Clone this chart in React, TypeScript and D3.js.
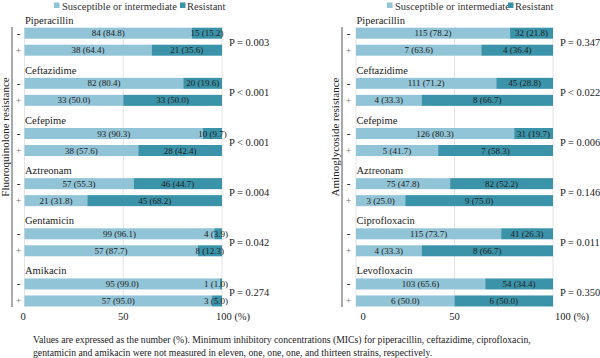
import React from "react";
import * as d3 from "d3";

const resistanceLabels = ["Fluoroquinolone resistance", "Aminoglycoside resistance"];
const seriesNames = ["Susceptible or intermediate", "Resistant"];
const drugsLeft = ["Piperacillin", "Ceftazidime", "Cefepime", "Aztreonam", "Gentamicin", "Amikacin"];
const drugsRight = ["Piperacillin", "Ceftazidime", "Cefepime", "Aztreonam", "Ciprofloxacin", "Levofloxacin"];
// [susceptible n, susceptible %, resistant n, resistant %] for "-" and "+"
const leftMinus = [[84, 84.8, 15, 15.2], [82, 80.4, 20, 19.6], [93, 90.3, 10, 9.7], [57, 55.3, 46, 44.7], [99, 96.1, 4, 3.9], [95, 99.0, 1, 1.0]];
const leftPlus = [[38, 64.4, 21, 35.6], [33, 50.0, 33, 50.0], [38, 57.6, 28, 42.4], [21, 31.8, 45, 68.2], [57, 87.7, 8, 12.3], [57, 95.0, 3, 5.0]];
const rightMinus = [[115, 78.2, 32, 21.8], [111, 71.2, 45, 28.8], [126, 80.3, 31, 19.7], [75, 47.8, 82, 52.2], [115, 73.7, 41, 26.3], [103, 65.6, 54, 34.4]];
const rightPlus = [[7, 63.6, 4, 36.4], [4, 33.3, 8, 66.7], [5, 41.7, 7, 58.3], [3, 25.0, 9, 75.0], [4, 33.3, 8, 66.7], [6, 50.0, 6, 50.0]];
const pLeft = ["P = 0.003", "P < 0.001", "P < 0.001", "P = 0.004", "P = 0.042", "P = 0.274"];
const pRight = ["P = 0.347", "P < 0.022", "P = 0.006", "P = 0.146", "P = 0.011", "P = 0.350"];
const ticks = [0, 50, 100];
const footnote1 = "Values are expressed as the number (%). Minimum inhibitory concentrations (MICs) for piperacillin, ceftazidime, ciprofloxacin,";
const footnote2 = "gentamicin and amikacin were not measured in eleven, one, one, one, and thirteen strains, respectively.";

const LIGHT = "#91c4d6";
const DARK = "#3a93a9";

const cw: Record<string, number> = { " ": 0.25, "(": 0.333, ")": 0.333, ".": 0.25 };
function textW(s: string, size: number) {
  let w = 0;
  for (const c of s) w += (cw[c] ?? 0.5) * size;
  return w;
}

function fmt(n: number, p: number) {
  return `${n} (${p.toFixed(1)})`;
}

type PanelProps = {
  x0: number; x1: number; axisX: number; titleX: number;
  drugs: string[]; minus: number[][]; plus: number[][]; pvals: string[];
  title: string; legendX: number[]; tickOffsets: number[]; tickAnchors: string[];
};

function Panel(p: PanelProps) {
  const x = d3.scaleLinear().domain([0, 100]).range([p.x0, p.x1]);
  const band = d3.scaleBand<number>().domain(d3.range(6)).range([10, 10 + 6 * 50.15]).paddingInner(0);
  const barH = 11;
  const rows = [
    { key: "-", data: p.minus, dy: 17.7 },
    { key: "+", data: p.plus, dy: 34.7 },
  ];
  const labelFs = 9;
  return (
    <g>
      <rect x={p.legendX[0]} y={2.5} width={5.5} height={5.5} fill={LIGHT} />
      <text x={p.legendX[0] + 8} y={9.5} fontSize={10.5} fill="#333">{seriesNames[0]}</text>
      <rect x={p.legendX[1]} y={2.5} width={5.5} height={5.5} fill={DARK} />
      <text x={p.legendX[1] + 7} y={9.5} fontSize={10.5} fill="#333">{seriesNames[1]}</text>
      {ticks.map((t) => (
        <line key={t} x1={x(t)} x2={x(t)} y1={27} y2={307} stroke="#e4e4e4" strokeWidth={1} />
      ))}
      <line x1={p.axisX} x2={p.axisX} y1={27} y2={307} stroke="#555" strokeWidth={1} />
      <text transform={`translate(${p.titleX},137) rotate(-90)`} textAnchor="middle" fontSize={11} fill="#222">{p.title}</text>
      {p.drugs.map((d, i) => {
        const b = band(i)!;
        return (
          <g key={d}>
            <text x={p.x0 + 0.5} y={b + 13.5} fontSize={10.5} fill="#222">{d}</text>
            {rows.map((r) => {
              const v = r.data[i];
              const y = b + r.dy;
              const sW = x(v[1]) - x(0);
              const rStart = x(v[1]);
              const rEnd = x(100);
              const sLab = fmt(v[0], v[1]);
              const rLab = fmt(v[2], v[3]);
              const rw = textW(rLab, labelFs);
              const rc = Math.min((rStart + rEnd) / 2, rEnd + 6 - rw / 2);
              return (
                <g key={r.key}>
                  <rect x={x(0)} y={y} width={sW} height={barH} fill={LIGHT} />
                  <rect x={rStart} y={y} width={rEnd - rStart} height={barH} fill={DARK} />
                  <text x={(x(0) + rStart) / 2} y={y + 8.5} fontSize={labelFs} textAnchor="middle" fill="#222">{sLab}</text>
                  <text x={rc} y={y + 8.5} fontSize={labelFs} textAnchor="middle" fill="#222">{rLab}</text>
                  <text x={p.axisX + 6.5} y={y + 9} fontSize={r.key === "-" ? 11 : 10} textAnchor="middle" fill={r.key === "-" ? "#222" : "#777"} fontWeight={r.key === "-" ? "bold" : "normal"}>{r.key}</text>
                </g>
              );
            })}
            <text x={x(100) + 7} y={b + 31.7 + 3.8} fontSize={10.5} fill="#222">{p.pvals[i]}</text>
          </g>
        );
      })}
      {ticks.map((t, k) => (
        <text key={t} x={x(t) + p.tickOffsets[k]} y={320} fontSize={10.5} textAnchor={p.tickAnchors[k] as any} fill="#222">
          {t === 100 ? "100 (%)" : String(t)}
        </text>
      ))}
    </g>
  );
}

export default function App() {
  return (
    <svg width={600} height={358} style={{ position: "absolute", left: 0, top: 0, background: "#fff" }}>
      <style>{`text { font-family: "Liberation Serif", "DejaVu Serif", serif; }`}</style>
      <rect width={600} height={358} fill="#fff" />
      <Panel x0={24.5} x1={222} axisX={12} titleX={8.5} drugs={drugsLeft} minus={leftMinus} plus={leftPlus} pvals={pLeft}
        title={resistanceLabels[0]} legendX={[54, 180]} tickOffsets={[-1.5, 0, -6]} tickAnchors={["middle", "middle", "start"]} />
      <Panel x0={356} x1={553} axisX={342} titleX={339} drugs={drugsRight} minus={rightMinus} plus={rightPlus} pvals={pRight}
        title={resistanceLabels[1]} legendX={[387, 508]} tickOffsets={[7, 0, 2]} tickAnchors={["middle", "middle", "start"]} />
      <text x={33} y={343} fontSize={9.7} fill="#222">{footnote1}</text>
      <text x={33} y={356} fontSize={9.7} fill="#222">{footnote2}</text>
    </svg>
  );
}
